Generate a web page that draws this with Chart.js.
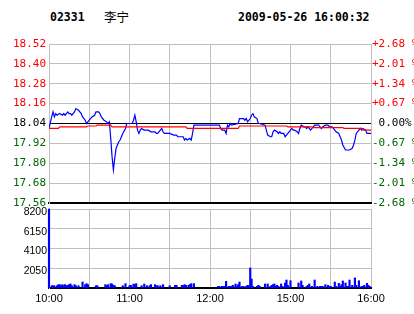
<!DOCTYPE html>
<html>
<head>
<meta charset="utf-8">
<script src="https://cdn.jsdelivr.net/npm/chart.js@4.4.0/dist/chart.umd.min.js"></script>
<style>
html, body { margin: 0; padding: 0; background: #fff; }
#wrap { position: relative; width: 414px; height: 314px; overflow: hidden; }
canvas { position: absolute; left: 0; }
.hd { position: absolute; top: 9px; font: bold 11.5px "DejaVu Sans Mono", monospace; line-height: 16px; color: #000; white-space: pre; }
</style>
</head>
<body>
<div id="wrap">
	<div class="hd" style="left:50px">02331</div>
	<div class="hd" style="left:104px;font:12.5px 'Noto Sans CJK SC';line-height:16px">李宁</div>
	<div class="hd" style="left:238px">2009-05-26 16:00:32</div>
	<canvas id="priceChart" width="414" height="214" style="top:0"></canvas>
	<canvas id="volChart" width="414" height="114" style="top:200px"></canvas>
</div>
<script>
// minutes from 10:00 (lunch break folded out, 12:30 -> 14:30)
var timeTickMinutes = [0, 30, 60, 90, 120, 150, 180, 210, 240];
var timeTickLabels = ['10:00', '', '11:00', '', '12:00', '', '15:00', '', '16:00'];
var priceTicks = [18.52, 18.40, 18.28, 18.16, 18.04, 17.92, 17.80, 17.68, 17.56];
var pctLabels = ['+2.68 %', '+2.01 %', '+1.34 %', '+0.67 %', ' 0.00%', '-0.67 %', '-1.34 %', '-2.01 %', '-2.68 %'];
var prevClose = 18.04;
var volTicks = [0, 2050, 4100, 6150, 8200];

var priceMinutes = [0, 2, 3, 4, 5, 6, 8, 10, 11, 12, 14, 15, 16, 17, 19, 20, 22, 23, 24, 25, 27, 28, 29, 30, 32, 34, 35, 37, 38, 39,
	41, 43, 44, 45, 46, 47, 48, 49, 50, 51, 52, 53, 54, 55, 57, 58, 60, 62, 63, 64, 65, 66, 67, 68, 69, 71, 74, 76, 79, 80,
	81, 83, 84, 85, 86, 90, 93, 95, 96, 100, 101, 102, 103, 105, 106, 107, 108, 127, 128, 129, 131, 132, 133, 134, 135, 136, 141, 142, 145, 146,
	147, 148, 150, 151, 152, 153, 155, 156, 157, 161, 162, 163, 165, 166, 167, 168, 170, 171, 172, 173, 175, 176, 177, 178, 180, 181, 182, 183, 185, 186,
	187, 188, 190, 191, 192, 193, 195, 196, 197, 198, 201, 202, 203, 204, 206, 208, 209, 211, 212, 213, 214, 216, 217, 218, 219, 221, 222, 224, 226, 227,
	228, 229, 231, 232, 233, 234, 236, 237, 238, 240];
var priceValues = [18.01, 18.08, 18.11, 18.08, 18.10, 18.09, 18.10, 18.09, 18.10, 18.09, 18.11, 18.10, 18.10, 18.09, 18.11, 18.13, 18.12, 18.11, 18.10, 18.08, 18.06, 18.04, 18.05, 18.06, 18.08, 18.09, 18.11, 18.11, 18.10, 18.08,
	18.06, 18.05, 18.04, 18.05, 17.95, 17.84, 17.76, 17.83, 17.89, 17.91, 17.93, 17.94, 17.96, 17.98, 18.01, 18.04, 18.04, 18.04, 18.06, 18.09, 18.05, 18.00, 17.98, 18.00, 18.01, 18.00, 18.00, 17.99, 17.99, 17.98,
	17.98, 18.00, 18.01, 17.99, 17.98, 17.98, 17.97, 17.97, 17.96, 17.96, 17.94, 17.95, 17.94, 17.95, 17.94, 17.98, 18.03, 18.03, 18.01, 18.00, 18.00, 17.98, 18.03, 18.02, 18.04, 18.03, 18.04, 18.07, 18.07, 18.06,
	18.07, 18.05, 18.07, 18.09, 18.10, 18.08, 18.07, 18.04, 18.04, 18.03, 18.00, 17.97, 17.96, 17.96, 17.99, 18.00, 17.99, 17.98, 17.99, 17.98, 17.98, 17.96, 17.97, 17.98, 18.00, 18.01, 18.00, 18.00, 17.99, 17.98,
	18.01, 18.03, 18.02, 18.02, 18.01, 18.02, 18.00, 18.01, 18.02, 18.03, 18.03, 18.02, 18.01, 18.02, 18.03, 18.03, 18.02, 18.02, 18.01, 18.00, 17.99, 17.98, 17.96, 17.94, 17.91, 17.88, 17.88, 17.88, 17.89, 17.91,
	17.94, 17.98, 18.00, 18.01, 18.00, 18.01, 18.00, 17.98, 17.98, 17.98];

var avgMinutes = [0, 7, 8, 28, 29, 35, 36, 46, 47, 102, 103, 141, 142, 177, 178, 196, 197, 219, 220, 233, 234, 240];
var avgValues = [18.01, 18.01, 18.02, 18.02, 18.025, 18.025, 18.03, 18.03, 18.02, 18.02, 18.01, 18.01, 18.025, 18.025, 18.02, 18.02, 18.015, 18.015, 18.01, 18.01, 18.00, 18.00];

var volMinutes = [0, 2, 3, 4, 6, 7, 8, 9, 10, 11, 12, 13, 14, 15, 16, 17, 19, 20, 22, 25, 27, 28, 29, 35, 36, 42, 43, 44, 46, 47,
	48, 49, 55, 57, 60, 61, 63, 64, 65, 69, 71, 73, 75, 76, 79, 80, 81, 83, 85, 90, 94, 95, 99, 100, 101, 102, 104, 105, 106, 108,
	126, 127, 129, 130, 131, 132, 134, 135, 136, 137, 139, 140, 141, 142, 144, 145, 147, 148, 149, 150, 151, 152, 155, 156, 157, 161, 163, 165, 166, 167,
	168, 169, 170, 171, 173, 174, 176, 177, 178, 180, 186, 188, 189, 192, 193, 194, 196, 198, 200, 202, 203, 204, 206, 208, 209, 210, 213, 214, 216, 217,
	218, 219, 221, 222, 223, 224, 226, 228, 229, 231, 233, 234, 235, 237, 238, 239];
var volValues = [8200, 240, 240, 240, 240, 350, 350, 240, 350, 240, 350, 240, 280, 350, 415, 240, 350, 240, 240, 620, 350, 450, 350, 240, 240, 350, 240, 350, 450, 415,
	280, 240, 240, 450, 240, 280, 415, 350, 450, 240, 415, 240, 240, 350, 350, 240, 240, 240, 350, 240, 280, 280, 280, 240, 350, 280, 280, 350, 450, 450,
	170, 170, 170, 170, 170, 690, 170, 170, 170, 280, 415, 170, 350, 620, 170, 170, 170, 280, 240, 2080, 930, 170, 170, 280, 170, 415, 415, 170, 280, 350,
	415, 170, 280, 170, 415, 170, 520, 830, 280, 760, 520, 730, 280, 170, 280, 415, 170, 830, 170, 170, 170, 170, 350, 280, 170, 170, 620, 170, 485, 170,
	350, 730, 520, 170, 170, 830, 280, 1040, 280, 760, 170, 170, 280, 485, 280, 170];

function pairs(xs, ys) {
	return xs.map(function(x, i){ return {x: x, y: ys[i]}; });
}
function setTicks(list) {
	return function(scale){ scale.ticks = list.map(function(v){ return {value: v}; }); };
}

var RED = '#FF0000', GREEN = '#006600', GRID = '#C0C0C0';
var mono = {family: 'DejaVu Sans Mono', size: 11};

function priceColor(v) {
	if (Math.abs(v - prevClose) < 1e-6) return '#000';
	return v > prevClose ? RED : GREEN;
}

var priceChart = new Chart('priceChart', {
	type: 'line',
	data: {
		datasets: [{
			data: pairs(avgMinutes, avgValues),
			borderColor: RED,
			borderWidth: 1.2,
			pointRadius: 0
		}, {
			data: pairs(priceMinutes, priceValues),
			borderColor: '#0000FF',
			borderWidth: 1.2,
			pointRadius: 0
		}]
	},
	options: {
		responsive: false,
		animation: false,
		events: [],
		layout: { padding: { top: 44, bottom: 0, left: 0, right: 0 } },
		plugins: { legend: { display: false }, tooltip: { enabled: false } },
		scales: {
			x: {
				type: 'linear', min: 0, max: 240,
				afterBuildTicks: setTicks(timeTickMinutes),
				ticks: { display: false },
				grid: { color: GRID, drawTicks: false },
				border: { color: '#000', width: 2 },
				afterFit: function(s){ s.height = 11; }
			},
			y: {
				position: 'left', min: 17.56, max: 18.52,
				afterBuildTicks: setTicks(priceTicks),
				ticks: {
					callback: function(v){ return v.toFixed(2); },
					color: function(ctx){ return priceColor(ctx.tick.value); },
					font: mono, padding: 3
				},
				grid: {
					color: function(ctx){ return Math.abs(ctx.tick.value - prevClose) < 1e-6 ? '#000' : GRID; },
					drawTicks: false
				},
				border: { color: GRID },
				afterFit: function(s){ s.width = 49; }
			},
			y2: {
				position: 'right', min: 17.56, max: 18.52,
				afterBuildTicks: setTicks(priceTicks),
				ticks: {
					callback: function(v, i){ return pctLabels[i]; },
					color: function(ctx){ return priceColor(priceTicks[ctx.index]); },
					font: mono, padding: 1
				},
				grid: { display: false, drawTicks: false },
				border: { display: false },
				afterFit: function(s){ s.width = 43; }
			}
		}
	}
});

var volChart = new Chart('volChart', {
	type: 'bar',
	data: {
		datasets: [{
			data: pairs(volMinutes, volValues),
			backgroundColor: '#0000FF',
			barThickness: 1.5,
			clip: false
		}]
	},
	options: {
		responsive: false,
		animation: false,
		events: [],
		layout: { padding: { top: 9, right: 43, bottom: 0, left: 0 } },
		plugins: { legend: { display: false }, tooltip: { enabled: false } },
		scales: {
			x: {
				type: 'linear', min: 0, max: 240, offset: false,
				afterBuildTicks: setTicks(timeTickMinutes),
				ticks: {
					callback: function(v, i){ return timeTickLabels[i]; },
					autoSkip: false, maxRotation: 0, color: '#000',
					font: { family: 'Liberation Sans', size: 11 }, padding: 4
				},
				grid: { color: GRID, drawTicks: false, offset: false },
				border: { color: '#000', width: 2 },
				afterFit: function(s){ s.height = 26; }
			},
			y: {
				min: 0, max: 8200,
				afterBuildTicks: setTicks(volTicks),
				ticks: {
					callback: function(v){ return v === 0 ? '' : String(v); },
					color: '#000',
					font: { family: 'Liberation Sans', size: 10.5 },
					padding: 2, labelOffset: 3
				},
				grid: { color: GRID, drawTicks: false },
				border: { color: GRID },
				afterFit: function(s){ s.width = 49; }
			}
		}
	}
});
</script>
</body>
</html>
